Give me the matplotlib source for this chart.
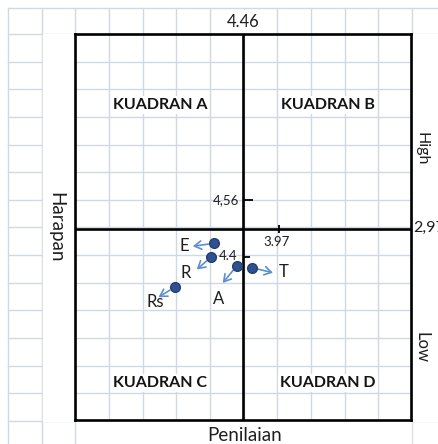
import matplotlib
matplotlib.use('Agg')
import matplotlib.pyplot as plt
import matplotlib.transforms as mtrans
import numpy as np

plt.rcParams['font.family'] = ['Lato', 'DejaVu Sans']

# data: Penilaian (x) vs Harapan (y)
labels = ['E', 'R', 'A', 'T', 'Rs']
penilaian = [3.843, 3.837, 3.888, 3.918, 3.766]
harapan = [4.439, 4.399, 4.375, 4.370, 4.315]
x_mid = 3.90
y_mid = 4.48
x_lim = (3.57, 4.23)
y_lim = (3.94, 5.03)
quadrants = ['KUADRAN A', 'KUADRAN B', 'KUADRAN C', 'KUADRAN D']

# arrow / label offsets in pixels (dx right, dy up)
arrow_off = [(-21, -3), (-14, -12), (-14, -17), (21, -5), (-16, -10)]
label_off = [(-29, -3), (-25, -16), (-18, -33), (32, -4), (-19, -15)]

W, H = 438, 444
fig = plt.figure(figsize=(W / 100, H / 100), dpi=100)

# spreadsheet background
bg = fig.add_axes([0, 0, 1, 1])
bg.set_xlim(0, W)
bg.set_ylim(H, 0)
bg.axis('off')
grid_c = '#d0d7e5'
cols = 8 + 33.65 * np.arange(13)
rows = 34 + 27.64 * np.arange(-1, 16)
rows[0] = 8
for cx in cols:
    bg.plot([cx, cx], [8, H], color=grid_c, lw=1)
for ry in rows:
    bg.plot([8, W], [ry, ry], color=grid_c, lw=1)
# white chart area strips
bg.add_patch(plt.Rectangle((43, 34), 32, 387, color='white', zorder=3))
bg.add_patch(plt.Rectangle((412.5, 34), 30, 387, color='white', zorder=3))
bg.add_patch(plt.Rectangle((77, 421), 334, 30, color='white', zorder=3))

txt_c = '#1e1e1e'
bg.text(243.5, 22, '4.46', ha='center', va='center', fontsize=12, color=txt_c,
        bbox=dict(facecolor='white', edgecolor='none', pad=3), zorder=4)
bg.text(245, 435, 'Penilaian', ha='center', va='center', fontsize=13.5, color=txt_c, zorder=4)
bg.text(56, 227, 'Harapan', ha='center', va='center', rotation=-90, fontsize=13.5,
        color=txt_c, zorder=4)
bg.text(422, 149, 'High', ha='center', va='center', rotation=-90, fontsize=11.5,
        color=txt_c, zorder=4)
bg.text(422, 347, 'Low', ha='center', va='center', rotation=-90, fontsize=12,
        color=txt_c, zorder=4)
bg.text(413, 228, '2,97', ha='left', va='center', fontsize=11.5, color=txt_c, zorder=4)

# chart
l, r, t, b = 74.7, 411, 34, 420
ax = fig.add_axes([l / W, 1 - b / H, (r - l) / W, (b - t) / H])
ax.patch.set_alpha(0)
ax.set_xlim(*x_lim)
ax.set_ylim(*y_lim)
ax.set_xticks([])
ax.set_yticks([])
for s in ax.spines.values():
    s.set_linewidth(1.9)
    s.set_color('black')
ax.axvline(x_mid, color='black', lw=1.9)
ax.axhline(y_mid, color='black', lw=1.9)

# axis tick marks and their labels
ax.plot([x_mid], [4.56], marker=1, ms=7.5, mew=1.3, color='black')
ax.plot([x_mid], [4.4], marker=1, ms=5, mew=1.3, color='black')
ax.plot([3.97], [y_mid], marker='|', ms=6, mew=1.3, color='black')
ax.annotate('4,56', (x_mid, 4.56), xytext=(-4, 0), textcoords='offset pixels',
            ha='right', va='center', fontsize=9.5, color=txt_c)
ax.annotate('4.4', (x_mid, 4.4), xytext=(-5, 1), textcoords='offset pixels',
            ha='right', va='center', fontsize=9.5, color=txt_c)
ax.annotate('3.97', (3.97, y_mid), xytext=(-2, -13), textcoords='offset pixels',
            ha='center', va='center', fontsize=9.5, color=txt_c)

# quadrant names
q_pos = [(0.2536, 0.816), (0.753, 0.816), (0.2536, 0.0966), (0.753, 0.0966)]
for name, (qx, qy) in zip(quadrants, q_pos):
    ax.text(qx, qy, name, transform=ax.transAxes, ha='center', va='center',
            fontsize=11.5, fontweight='bold', color='#141414',
            bbox=dict(facecolor='white', edgecolor='none', pad=1.5))

# points, arrows, labels
ax.plot(penilaian, harapan, 'o', ms=7, color='#2f5190', mec='#24406f', zorder=5)
for lab, px, py, (adx, ady), (ldx, ldy) in zip(labels, penilaian, harapan, arrow_off, label_off):
    head = mtrans.offset_copy(ax.transData, fig=fig, x=adx, y=ady, units='dots')
    ax.annotate('', xy=(px, py), xycoords=head, xytext=(px, py), textcoords='data',
                arrowprops=dict(arrowstyle='->,head_length=0.5,head_width=0.3',
                                color='#5b8fd0', lw=1.2, shrinkA=4, shrinkB=0))
    ax.annotate(lab, (px, py), xytext=(ldx, ldy), textcoords='offset pixels',
                ha='center', va='center', fontsize=12, color=txt_c)

fig.savefig('out.png', dpi=100)
